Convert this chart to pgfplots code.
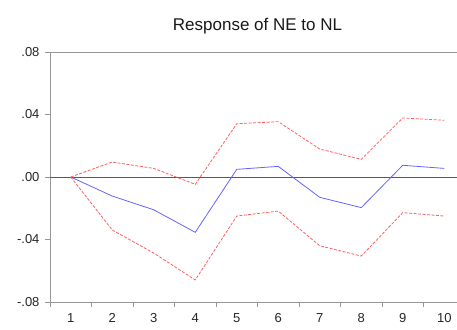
\documentclass[border=0pt]{standalone}
\usepackage{pgfplots}
\pgfplotsset{compat=1.18}
\usepackage{fontspec}
\setmainfont{Liberation Sans}
\definecolor{irfblue}{RGB}{100,100,255}
\definecolor{irfred}{RGB}{255,95,95}
\definecolor{axgray}{RGB}{150,150,150}
\begin{document}
\begin{tikzpicture}
\useasboundingbox (-50pt,-27pt) rectangle (407pt,302pt);
\begin{axis}[
  at={(0pt,0pt)}, anchor=south west,
  scale only axis,
  width=415pt, height=250pt,
  xmin=0.5, xmax=10.5,
  ymin=-0.08, ymax=0.08,
  scaled y ticks=false,
  axis line style={axgray, line width=0.8pt},
  xtick={1,...,10},
  xticklabels={1,2,3,4,5,6,7,8,9,10},
  major x tick style={draw=none},
  minor xtick={0.5,1.5,...,10.5},
  minor x tick style={axgray, line width=0.8pt},
  minor tick length=4.5pt,
  ytick={-0.08,-0.04,0,0.04,0.08},
  yticklabels={-.08,-.04,.00,.04,.08},
  y tick style={axgray, line width=0.8pt},
  major tick length=5pt,
  tick align=outside,
  xtick pos=bottom, ytick pos=left,
  tick label style={font=\fontsize{13}{15}\selectfont, text=black!85},
  xticklabel style={yshift=-3pt},
  yticklabel style={xshift=-2pt},
  title={Response of NE to NL},
  title style={font=\fontsize{17}{20}\selectfont, text=black!90, yshift=8pt},
  clip=false,
]
\addplot[black!65, line width=0.7pt, forget plot] coordinates {(0.5,0) (10.5,0)};
\addplot[irfblue, line width=0.8pt] coordinates {
(1,0) (2,-0.0122) (3,-0.0210) (4,-0.0354) (5,0.0049)
(6,0.0068) (7,-0.0130) (8,-0.0196) (9,0.0075) (10,0.0055)};
\addplot[irfred, line width=0.8pt, dash pattern=on 3pt off 1.5pt] coordinates {
(1,0) (2,0.0096) (3,0.0055) (4,-0.0047) (5,0.0341)
(6,0.0354) (7,0.0179) (8,0.0113) (9,0.0378) (10,0.0363)};
\addplot[irfred, line width=0.8pt, dash pattern=on 3pt off 1.5pt] coordinates {
(1,0) (2,-0.0339) (3,-0.0487) (4,-0.0659) (5,-0.0250)
(6,-0.0218) (7,-0.0440) (8,-0.0506) (9,-0.0228) (10,-0.0250)};
\end{axis}
\end{tikzpicture}
\end{document}
